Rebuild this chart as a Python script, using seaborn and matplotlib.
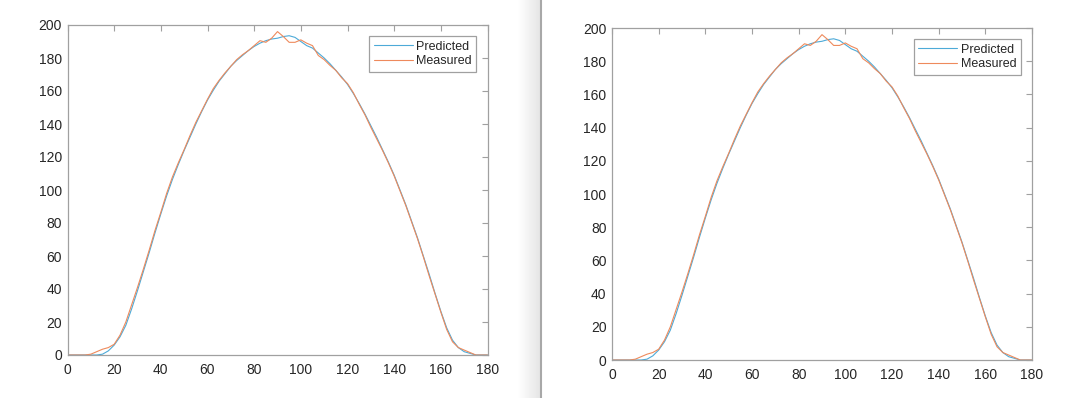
import numpy as np
import pandas as pd
import matplotlib
matplotlib.use("Agg")
import matplotlib.pyplot as plt
import seaborn as sns

# Angle (deg) and intensity
angle = [0, 2.5, 5, 7.5, 10, 12.5, 15, 17.5, 20, 22.5, 25, 27.5, 30, 32.5, 35, 37.5,
         40, 42.5, 45, 47.5, 50, 52.5, 55, 57.5, 60, 62.5, 65, 67.5, 70, 72.5, 75, 77.5,
         80, 82.5, 85, 87.5, 90, 92.5, 95, 97.5, 100, 102.5, 105, 107.5, 110, 112.5,
         115, 117.5, 120, 122.5, 125, 127.5, 130, 132.5, 135, 137.5, 140, 142.5, 145,
         147.5, 150, 152.5, 155, 157.5, 160, 162.5, 165, 167.5, 170, 172.5, 175, 177.5, 180]

predicted = [0, 0, 0, 0, 0, 0, 0.5, 2.5, 6, 11, 18, 28, 39, 50.5, 62, 74,
             85.5, 96.5, 106.5, 115.5, 124, 132, 140, 147.5, 154.5, 160.5, 166, 170.5, 175, 178.5, 181.5, 184.5,
             187, 189, 190.5, 191.5, 192, 193, 193.5, 192.5, 190, 187.5, 186, 183, 180, 176.5,
             172.5, 168.5, 164, 158.5, 152.5, 146, 139, 132, 124.5, 117, 109, 100, 91,
             81, 71, 60, 49, 37.5, 26.5, 16.5, 9, 4.5, 2, 1, 0, 0, 0]

measured = [0, 0, 0, 0, 0.5, 2, 3.5, 4.5, 6.5, 12, 20, 30.5, 41, 52, 63.5, 75.5,
            86.5, 98, 108, 116.5, 124.5, 133, 141, 148, 155, 161.5, 166.5, 171, 175, 179, 182, 184.5,
            187.5, 190.5, 189.5, 192, 196, 193, 189.5, 189.5, 191, 189, 187.5, 181.5, 179, 175.5,
            172.5, 168, 164.5, 159, 152, 145.5, 138, 131, 124, 116.5, 108.5, 99.5, 90.5,
            80.5, 70.5, 59.5, 48, 37, 26, 15.5, 8, 4.5, 3, 1.5, 0, 0, 0]

series = ["Predicted", "Measured"]
palette = {"Predicted": "#4DAAD8", "Measured": "#EE8A5C"}

df = pd.concat([
    pd.DataFrame({"angle": angle, "value": predicted, "series": "Predicted"}),
    pd.DataFrame({"angle": angle, "value": measured, "series": "Measured"}),
])

sns.set_style("white")
plt.rcParams['font.family'] = ['Liberation Sans', 'DejaVu Sans']

fig = plt.figure(figsize=(10.8, 3.98), dpi=100)
fig.patch.set_facecolor("white")

# shadow + divider between the two screenshots
shade = fig.add_axes([518 / 1080, 0, 22 / 1080, 1])
grad = np.linspace(1.0, 0.9, 50)[None, :]
shade.imshow(grad, cmap="gray", vmin=0, vmax=1, aspect="auto")
shade.axis("off")
fig.add_artist(plt.Line2D([540.5 / 1080, 540.5 / 1080], [0, 1], color="#a8a8a8", lw=1.5))

boxes = [[67.5 / 1080, 1 - 355 / 398, 420 / 1080, 330 / 398],
         [612 / 1080, 1 - 360 / 398, 420 / 1080, 332 / 398]]

for b in boxes:
    ax = fig.add_axes(b)
    sns.lineplot(data=df, x="angle", y="value", hue="series", hue_order=series,
                 palette=palette, linewidth=0.8, ax=ax, legend=True)
    ax.set_xlim(0, 180)
    ax.set_ylim(0, 200)
    ax.set_xticks(range(0, 181, 20))
    ax.set_yticks(range(0, 201, 20))
    ax.set_xlabel("")
    ax.set_ylabel("")
    for s in ax.spines.values():
        s.set_color("#a0a0a0")
        s.set_linewidth(0.9)
    ax.tick_params(direction="in", length=4, width=0.8, color="#a0a0a0",
                   labelsize=10, labelcolor="#262626", top=True, right=True)
    ax.tick_params(axis="x", pad=6)
    ax.tick_params(axis="y", pad=4)
    leg = ax.legend(loc="upper right", fontsize=9, frameon=True, fancybox=False,
                    edgecolor="#a0a0a0", framealpha=1, handlelength=3.1,
                    borderaxespad=0.9, borderpad=0.35, labelspacing=0.2, handletextpad=0.3)
    leg.get_frame().set_linewidth(0.9)

fig.savefig("out.png", dpi=100)
